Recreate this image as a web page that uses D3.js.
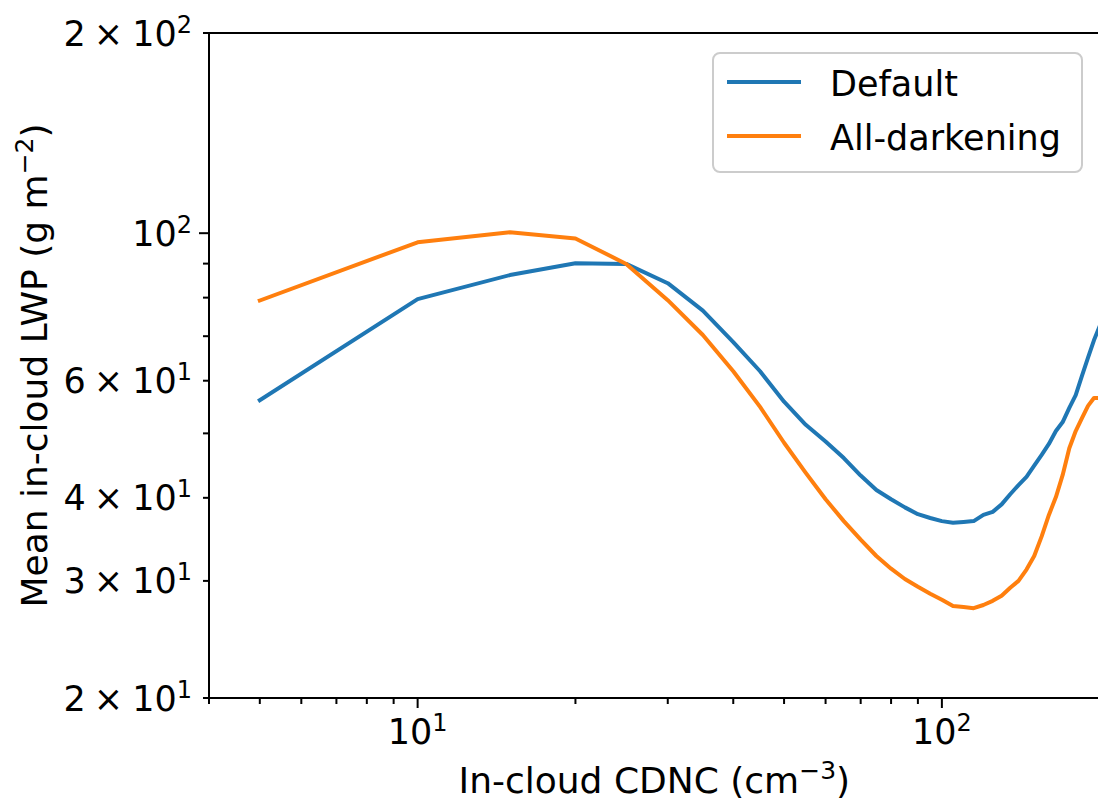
<!DOCTYPE html>
<html><head><meta charset="utf-8">
<script src="https://cdn.jsdelivr.net/npm/d3@7"></script>
<style>body{margin:0;background:#fff} text{font-family:"DejaVu Sans",sans-serif;fill:#000}</style>
</head><body><svg id="c" width="1098" height="804"></svg>
<script>
// ---- data ----
const cdnc = [5,10,15,20,25,30,35,40,45,50,55,60,65,70,75,80,85,90,95,100,
  105,110,115,120,125,130,135,140,145,150,155,160,165,170,175,180,185,190,195,200];
const lwpDefault = [56.1,79.6,86.5,90.1,89.9,84.1,76.5,68.6,62.0,55.8,51.5,48.6,45.9,43.2,41.1,39.8,38.7,37.8,37.3,36.9,
  36.7,36.8,36.9,37.7,38.1,39.1,40.5,41.8,43.0,44.7,46.4,48.2,50.4,52.0,54.6,57.1,61.0,65.0,69.0,72.5];
const lwpAllDark = [79.2,96.9,100.3,98.2,89.9,79.3,70.3,62.0,54.8,48.4,43.6,39.8,36.9,34.6,32.7,31.3,30.2,29.4,28.7,28.1,
  27.5,27.4,27.3,27.6,28.0,28.5,29.3,30.0,31.2,32.7,35.0,37.7,40.1,43.3,47.5,50.4,52.7,55.0,56.5,56.5];
const seriesNames = ["Default","All-darkening"];
const seriesColors = ["#1f77b4","#ff7f0e"];
const yMajorTicks = [100];
const yMinorTicks = [20,30,40,50,60,70,80,90,200];
const yTickLabels = [[20,"2","1"],[30,"3","1"],[40,"4","1"],[60,"6","1"],[100,null,"2"],[200,"2","2"]];
const xMajorTicks = [10,100];
const xMinorTicks = [4,5,6,7,8,9,20,30,40,50,60,70,80,90,200];
const xTickLabels = [[10,"1"],[100,"2"]];
const xDomain = [4,200], yDomain = [20,200];

// ---- layout ----
const L = 209, R = 1099.7, T = 33, B = 698;
const svg = d3.select("#c");
const x = d3.scaleLog().domain(xDomain).range([L,R]);
const y = d3.scaleLog().domain(yDomain).range([B,T]);
const FS = 35, SUP = 24, SUPDY = 13;

// clip
svg.append("clipPath").attr("id","clip").append("rect")
  .attr("x",L).attr("y",T).attr("width",R-L).attr("height",B-T);

// lines
const line = d3.line().x((d,i)=>x(cdnc[i])).y(d=>y(d));
[lwpDefault,lwpAllDark].forEach((s,k)=>{
  svg.append("path").attr("d",line(s)).attr("fill","none")
    .attr("stroke",seriesColors[k]).attr("stroke-width",4)
    .attr("stroke-linejoin","round").attr("stroke-linecap","square")
    .attr("clip-path","url(#clip)");
});

// spines
const sp = svg.append("g").attr("stroke","#000").attr("stroke-width",2).attr("fill","none");
sp.append("path").attr("d",`M${L},${T}V${B}H${R}V${T}Z`).attr("stroke-linejoin","miter");

// ticks
const tk = svg.append("g").attr("stroke","#000").attr("stroke-width",2);
xMajorTicks.forEach(v=>tk.append("line").attr("x1",x(v)).attr("x2",x(v)).attr("y1",B).attr("y2",B+10));
xMinorTicks.forEach(v=>tk.append("line").attr("x1",x(v)).attr("x2",x(v)).attr("y1",B).attr("y2",B+6));
yMajorTicks.forEach(v=>tk.append("line").attr("y1",y(v)).attr("y2",y(v)).attr("x1",L).attr("x2",L-10));
yMinorTicks.forEach(v=>tk.append("line").attr("y1",y(v)).attr("y2",y(v)).attr("x1",L).attr("x2",L-6));

// y tick labels
yTickLabels.forEach(([v,m,e])=>{
  const t = svg.append("text").attr("x",L-17).attr("y",y(v)+12.5)
    .attr("text-anchor","end").attr("font-size",FS);
  if(m){
    t.append("tspan").text(m);
    t.append("tspan").attr("dx",8).text("\u00d7");
    t.append("tspan").attr("dx",9).text("10");
  } else {
    t.append("tspan").text("10");
  }
  t.append("tspan").attr("font-size",SUP).attr("dy",-SUPDY).text(e);
});

// x tick labels
xTickLabels.forEach(([v,e])=>{
  const t = svg.append("text").attr("x",x(v)).attr("y",744)
    .attr("text-anchor","middle").attr("font-size",FS);
  t.append("tspan").text("10");
  t.append("tspan").attr("font-size",SUP).attr("dy",-SUPDY).text(e);
});

// axis labels
const xl = svg.append("text").attr("x",(L+R)/2).attr("y",793)
  .attr("text-anchor","middle").attr("font-size",36);
xl.append("tspan").text("In-cloud CDNC (cm");
xl.append("tspan").attr("font-size",25).attr("dy",-14).text("\u22123");
xl.append("tspan").attr("dy",14).text(")");

const yl = svg.append("text").attr("transform",`translate(47,${(T+B)/2}) rotate(-90)`)
  .attr("text-anchor","middle").attr("font-size",36);
yl.append("tspan").text("Mean in-cloud LWP (g m");
yl.append("tspan").attr("font-size",25).attr("dy",-14).text("\u22122");
yl.append("tspan").attr("dy",14).text(")");

// legend
const lg = svg.append("g");
lg.append("rect").attr("x",713).attr("y",53).attr("width",369).attr("height",119)
  .attr("rx",7).attr("fill","#fff").attr("fill-opacity",0.8)
  .attr("stroke","#cccccc").attr("stroke-width",2);
seriesNames.forEach((n,i)=>{
  const ly = 82 + i*54;
  lg.append("line").attr("x1",727).attr("x2",801).attr("y1",ly).attr("y2",ly)
    .attr("stroke",seriesColors[i]).attr("stroke-width",4);
  lg.append("text").attr("x",830).attr("y",ly+13.5).attr("font-size",FS).text(n);
});
</script></body></html>
